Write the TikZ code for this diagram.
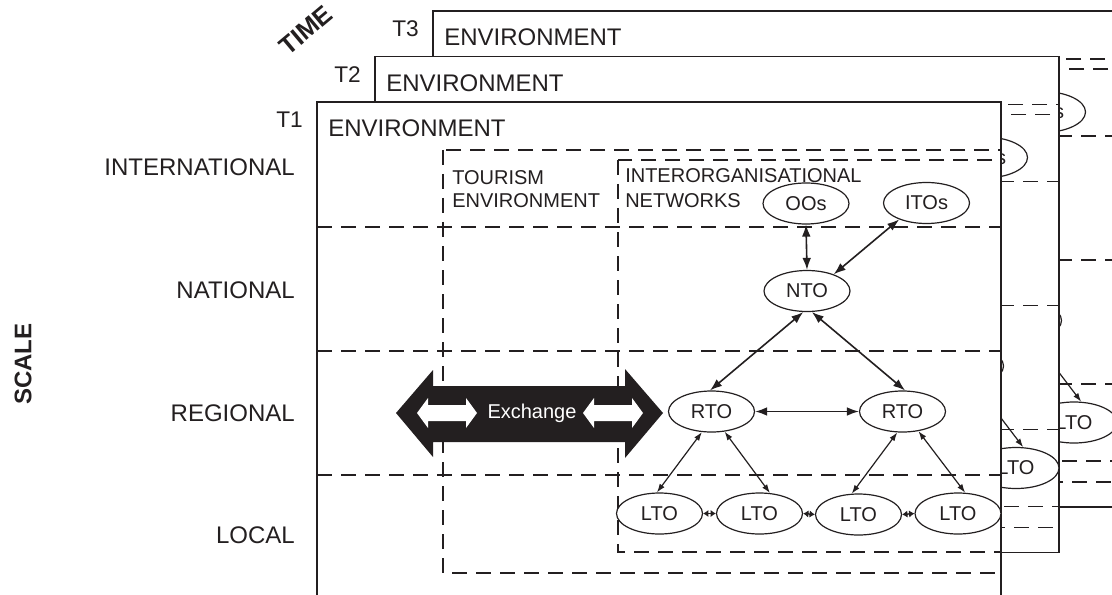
\documentclass[tikz,border=0pt]{standalone}
\usepackage{fontspec}
\setmainfont{Liberation Sans}
\usetikzlibrary{arrows.meta,shapes.geometric}
\definecolor{ink}{RGB}{35,31,32}

\tikzset{
  frame/.style={draw=ink, line width=1.3pt, fill=white},
  dashline/.style={draw=ink, line width=1.4pt, dash pattern=on 11pt off 7pt},
  org/.style={ellipse, draw=ink, line width=0.9pt, fill=white,
    minimum width=64.5pt, minimum height=30.75pt, inner sep=0pt,
    text=ink, font=\fontsize{15}{18}\selectfont},
  link/.style={draw=ink, line width=1.2pt,
    {Latex[length=9pt,width=6.5pt]}-{Latex[length=9pt,width=6.5pt]}},
  sublink/.style={draw=ink, line width=0.9pt,
    {Latex[length=6.5pt,width=4.5pt]}-{Latex[length=6.5pt,width=4.5pt]}},
  peerlink/.style={draw=ink, line width=1.1pt,
    {Latex[length=4pt,width=5.5pt]}-{Latex[length=4pt,width=5.5pt]}},
  lbl/.style={text=ink, inner sep=0pt, font=\fontsize{18}{21}\selectfont},
  tlbl/.style={text=ink, inner sep=0pt, font=\fontsize{17}{20}\selectfont},
  small/.style={text=ink, inner sep=0pt, font=\fontsize{15}{18}\selectfont},
}

\begin{document}
\begin{tikzpicture}[x=0.75pt,y=-0.75pt]
\useasboundingbox (0,0) rectangle (1112,595);
\clip (0,0) rectangle (1112,595);

% three time slices, back to front
\foreach \t/\sx/\sy in {3/116/-91, 2/58/-45.5, 1/0/0}{
  \begin{scope}[shift={(\sx,\sy)}]
    \draw[frame] (317,102) rectangle (1001,598);
    \node[tlbl, anchor=base east] (tl\t) at (303,128) {T\t};
    \node[lbl, anchor=base west] (env\t) at (328,137) {ENVIRONMENT};

    % scale bands
    \draw[dashline] (317,227) -- (1001,227);
    \draw[dashline] (317,351) -- (1001,351);
    \draw[dashline] (317,475) -- (1001,475);

    % tourism environment and network boxes
    \draw[dashline] (443,150) rectangle (1001,573);
    \draw[dashline] (618,160) rectangle (1001,552);
    \node[small, anchor=base west] (tour\t) at (452,185) {TOURISM};
    \node[small, anchor=base west] (tenv\t) at (452,208) {ENVIRONMENT};
    \node[small, anchor=base west] (inter\t) at (625,183) {INTERORGANISATIONAL};
    \node[small, anchor=base west] (netw\t) at (625,208) {NETWORKS};

    % exchange arrow
    \fill[ink] (396,413) -- (433,370) -- (433,386) -- (625,386) -- (625,369)
      -- (663,413) -- (625,458) -- (625,442) -- (433,442) -- (433,457) -- cycle;
    \fill[white] (417,413) -- (428,398) -- (428,405) -- (466,405) -- (466,398)
      -- (477,413) -- (466,428) -- (466,421) -- (428,421) -- (428,428) -- cycle;
    \fill[white] (583,413) -- (594,398) -- (594,405) -- (632,405) -- (632,398)
      -- (643,413) -- (632,428) -- (632,421) -- (594,421) -- (594,428) -- cycle;
    \node[small, text=white] (exch\t) at (532,413) {Exchange};

    % organisations
    \node[org] (oos\t)  at (806,203.5) {OOs};
    \node[org] (itos\t) at (926.5,203) {ITOs};
    \node[org] (nto\t)  at (807,291) {NTO};
    \node[org] (rtoa\t) at (711.5,411.5) {RTO};
    \node[org] (rtob\t) at (902.5,411.5) {RTO};
    \node[org] (ltoa\t) at (659.5,513.5) {LTO};
    \node[org] (ltob\t) at (759.5,513.5) {LTO};
    \node[org] (ltoc\t) at (858.5,514.5) {LTO};
    \node[org] (ltod\t) at (958,513.5) {LTO};

    % links
    \draw[link] (oos\t.south) -- (nto\t.north);
    \draw[link] (itos\t.211) -- (nto\t.32);
    \draw[link] (nto\t.260) -- (rtoa\t.94);
    \draw[link] (nto\t.283) -- (rtob\t.83);
    \draw[link] (rtoa\t.east) -- (rtob\t.west);
    \draw[sublink] (rtoa\t.245) -- (ltoa\t.97);
    \draw[sublink] (rtoa\t.303) -- (ltob\t.63);
    \draw[sublink] (rtob\t.256) -- (ltoc\t.108);
    \draw[sublink] (rtob\t.309) -- (ltod\t.71);
    \draw[peerlink] (ltoa\t.east) -- (ltob\t.west);
    \draw[peerlink] (ltob\t.east) -- (ltoc\t.west);
    \draw[peerlink] (ltoc\t.east) -- (ltod\t.west);
  \end{scope}
}

% scale axis
\node[lbl, anchor=base east] (intl) at (295,176) {INTERNATIONAL};
\node[lbl, anchor=base east] (natl) at (295,298) {NATIONAL};
\node[lbl, anchor=base east] (regl) at (295,421) {REGIONAL};
\node[lbl, anchor=base east] (locl) at (295,543) {LOCAL};
\node[text=ink, inner sep=0pt, font=\fontsize{18}{21}\selectfont\bfseries, rotate=90] (scale) at (23,364) {SCALE};

% time axis
\node[text=ink, inner sep=0pt, font=\fontsize{19}{22}\selectfont\bfseries, rotate=40] (time) at (306,30) {TIME};
\end{tikzpicture}
\end{document}
